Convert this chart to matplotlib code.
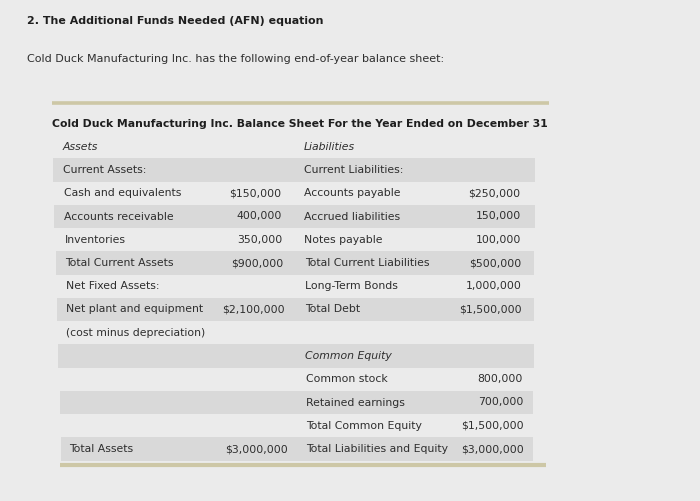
import numpy as np
import matplotlib
matplotlib.use("Agg")
import matplotlib.pyplot as plt

heading = "2. The Additional Funds Needed (AFN) equation"
intro = "Cold Duck Manufacturing Inc. has the following end-of-year balance sheet:"
table_title = "Cold Duck Manufacturing Inc. Balance Sheet For the Year Ended on December 31"

left_labels = ["Current Assets:", "Cash and equivalents", "Accounts receivable", "Inventories",
               "Total Current Assets", "Net Fixed Assets:", "Net plant and equipment",
               "(cost minus depreciation)", "", "", "", "", "Total Assets"]
left_values = ["", "$150,000", "400,000", "350,000", "$900,000", "", "$2,100,000",
               "", "", "", "", "", "$3,000,000"]
right_labels = ["Current Liabilities:", "Accounts payable", "Accrued liabilities", "Notes payable",
                "Total Current Liabilities", "Long-Term Bonds", "Total Debt", "",
                "Common Equity", "Common stock", "Retained earnings", "Total Common Equity",
                "Total Liabilities and Equity"]
right_values = ["", "$250,000", "150,000", "100,000", "$500,000", "1,000,000", "$1,500,000",
                "", "", "800,000", "700,000", "$1,500,000", "$3,000,000"]
italic_rows = ["Common Equity"]

bg = "#ebebeb"
band = "#d9d9d9"
ink = "#2e2e2e"
rule = "#cdc7a6"

fig = plt.figure(figsize=(7.0, 5.01), dpi=100, facecolor=bg)
ax = fig.add_axes([0, 0, 1, 1])
ax.set_xlim(0, 700)
ax.set_ylim(501, 0)
ax.axis("off")
ax.set_facecolor(bg)

fs = 7.8
ax.text(27, 21, heading, fontsize=7.95, fontweight="bold", color="#1e1e1e", va="center")
ax.text(27, 59, intro, fontsize=8.0, color=ink, va="center")

ax.plot([52, 549], [103, 103], color=rule, lw=2.6, solid_capstyle="butt")
ax.text(52, 124, table_title, fontsize=7.84, fontweight="bold", color="#1e1e1e", va="center")
ax.text(63, 147, "Assets", fontsize=fs, style="italic", color=ink, va="center")
ax.text(304, 147, "Liabilities", fontsize=fs, style="italic", color=ink, va="center")

n = len(left_labels)
row_h = 23.25
y0 = 170
for i in range(n):
    y = y0 + i * row_h
    t = i / (n - 1)
    if i % 2 == 0:
        xl = 53 + 8 * t
        xr = 535 - 2 * t
        ax.add_patch(plt.Rectangle((xl, y - row_h / 2), xr - xl, row_h,
                                   facecolor=band, edgecolor="none"))
    ax.text(63 + 6 * t, y, left_labels[i], fontsize=fs, color=ink, va="center")
    ax.text(281 + 7 * t, y, left_values[i], fontsize=fs, color=ink, va="center", ha="right")
    sty = "italic" if right_labels[i] in italic_rows else "normal"
    ax.text(304 + 2 * t, y, right_labels[i], fontsize=fs, style=sty, color=ink, va="center")
    ax.text(520 + 4 * t, y, right_values[i], fontsize=fs, color=ink, va="center", ha="right")

ax.plot([60, 546], [465, 465], color=rule, lw=3.0, solid_capstyle="butt")

fig.savefig("out.png", dpi=100, facecolor=bg)
